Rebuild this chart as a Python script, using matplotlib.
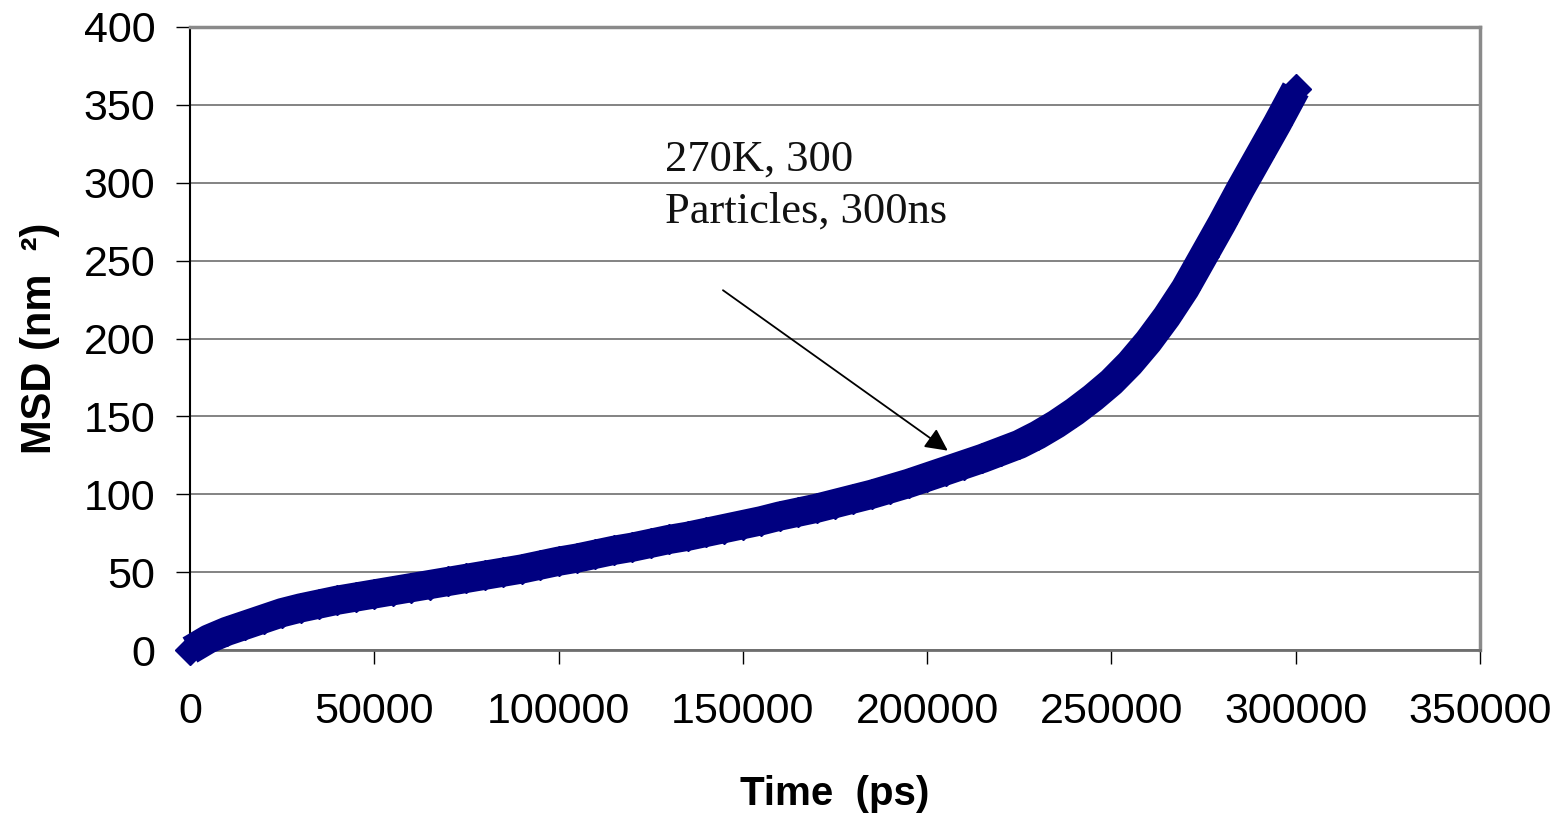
import matplotlib
matplotlib.use("Agg")
import matplotlib.pyplot as plt

# MSD vs time, every 5000 ps
time_ps = [0, 5000, 10000, 15000, 20000, 25000, 30000, 35000, 40000, 45000,
           50000, 55000, 60000, 65000, 70000, 75000, 80000, 85000, 90000, 95000,
           100000, 105000, 110000, 115000, 120000, 125000, 130000, 135000, 140000, 145000,
           150000, 155000, 160000, 165000, 170000, 175000, 180000, 185000, 190000, 195000,
           200000, 205000, 210000, 215000, 220000, 225000, 230000, 235000, 240000, 245000,
           250000, 255000, 260000, 265000, 270000, 275000, 280000, 285000, 290000, 295000,
           300000]
msd_nm2 = [0, 7, 12, 16, 20, 24, 27, 29.5, 32, 34,
           36, 38, 40, 42, 44, 46, 48, 50, 52, 54.5,
           57, 59, 61.5, 64, 66, 68.5, 71, 73, 75.5, 78,
           80.5, 83, 86, 88.5, 91, 94, 97, 100, 103.5, 107,
           111, 115, 119, 123, 127.5, 132, 138, 145, 153, 162,
           172, 184, 198, 214, 232, 253, 274, 296, 317, 338,
           360]

x_ticks = [0, 50000, 100000, 150000, 200000, 250000, 300000, 350000]
y_ticks = [0, 50, 100, 150, 200, 250, 300, 350, 400]
note = "270K, 300\nParticles, 300ns"

navy = "#000080"

fig = plt.figure(figsize=(15.63, 8.17), dpi=100)
ax = fig.add_axes([190 / 1563, 167 / 817, 1290 / 1563, 623 / 817])

ax.plot(time_ps, msd_nm2, color=navy, lw=21, solid_capstyle="butt",
        solid_joinstyle="round", marker="D", ms=15, mec=navy, mfc=navy,
        clip_on=False, zorder=3)

ax.set_xlim(0, 350000)
ax.set_ylim(0, 400)
ax.set_xticks(x_ticks)
ax.set_yticks(y_ticks)
ax.set_xticklabels([str(t) for t in x_ticks])
ax.set_yticklabels([str(t) for t in y_ticks])

ax.yaxis.grid(True, color="#6e6e6e", lw=1.2)
ax.set_axisbelow(True)

ax.spines["left"].set_color("black")
ax.spines["left"].set_linewidth(1.5)
ax.spines["bottom"].set_color("#6e6e6e")
ax.spines["bottom"].set_linewidth(2)
for side in ("top", "right"):
    ax.spines[side].set_color("#8a8a8a")
    ax.spines[side].set_linewidth(2.5)

ax.tick_params(axis="both", direction="out", length=10, width=1, color="black",
               labelsize=31, labelfontfamily="Liberation Sans")
ax.tick_params(axis="x", pad=20)
ax.tick_params(axis="y", pad=15)

ax.set_xlabel("Time  (ps)", fontsize=29, fontweight="bold", family="Liberation Sans",
              labelpad=31)
ax.set_ylabel("MSD (nm  \u00b2)", fontsize=30, fontweight="bold", family="Liberation Sans",
              labelpad=17)

ax.text(129000, 298, note, fontsize=32, family="Liberation Serif", color="#111111",
        va="center", ha="left", linespacing=1.38)
ax.annotate("", xy=(205600, 128), xytext=(144600, 231),
            arrowprops=dict(arrowstyle="-|>", color="black", lw=1.3,
                            mutation_scale=34, shrinkA=0, shrinkB=0))

fig.savefig("out.png", dpi=100)
